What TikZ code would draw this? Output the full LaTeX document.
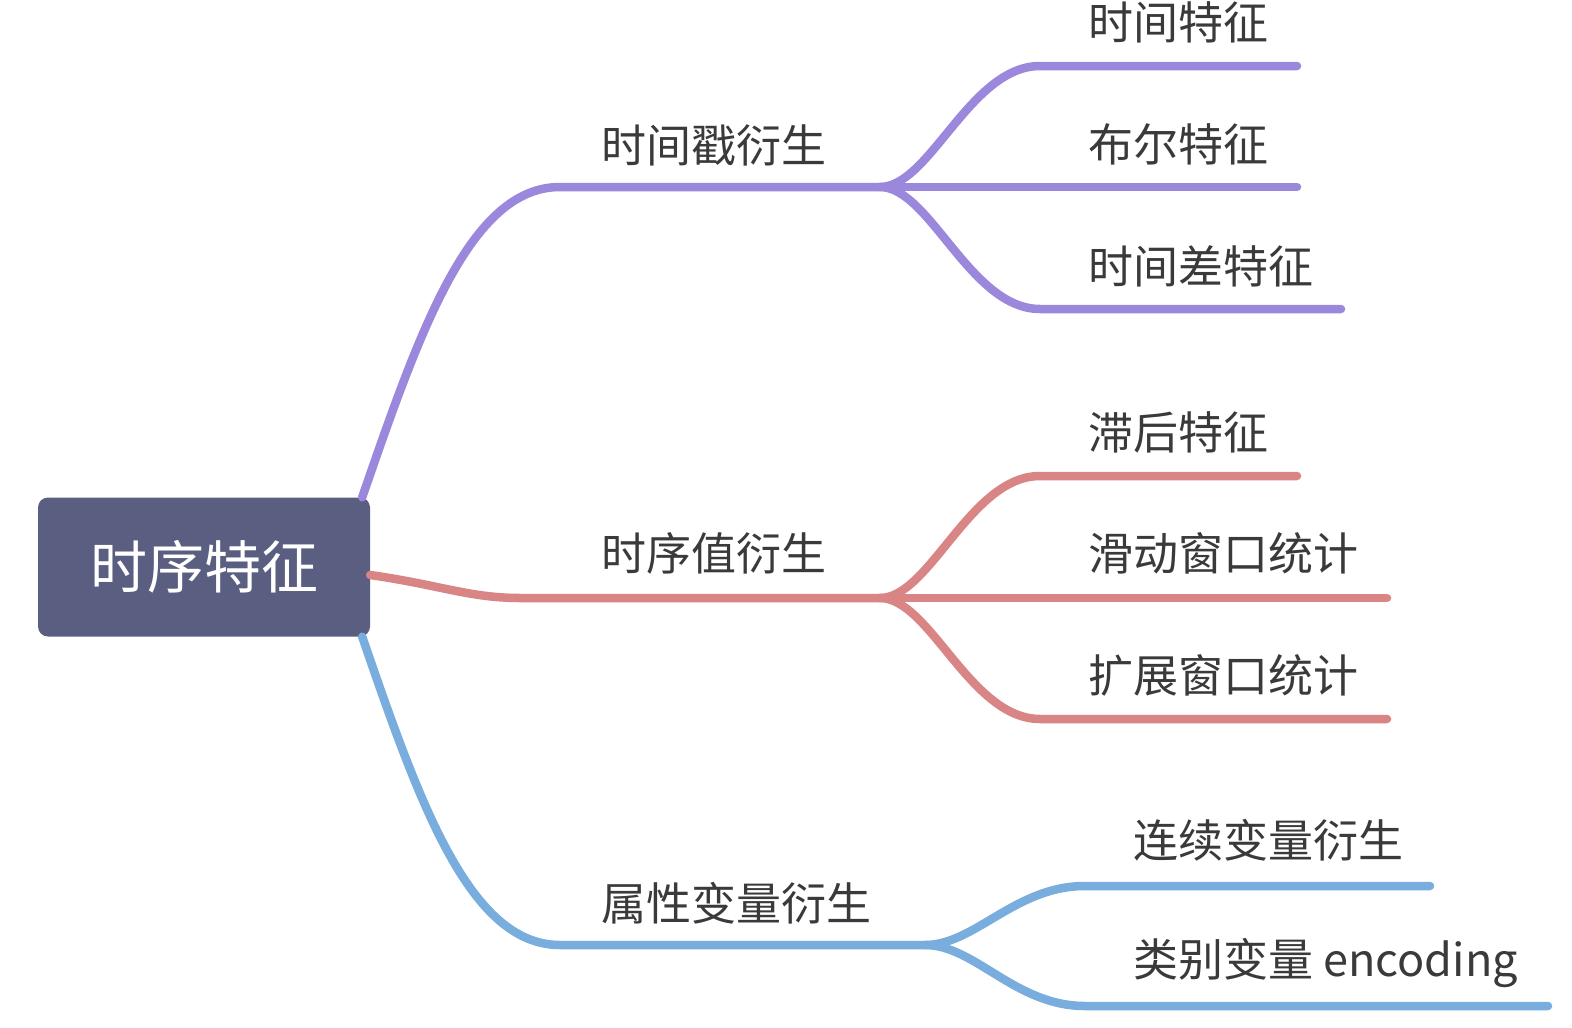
\documentclass[tikz,border=0pt]{standalone}
\usepackage{fontspec}
\setmainfont{Noto Sans CJK SC}
\usepackage{tikz}
\usetikzlibrary{positioning, calc}
\definecolor{mmtema}{HTML}{5A5F82}
\definecolor{mmzi}{HTML}{9B88DC}
\definecolor{mmhong}{HTML}{D98585}
\definecolor{mmlan}{HTML}{78ADDD}
\definecolor{mmtexto}{HTML}{3A3A3A}
\tikzset{
  tema/.style={fill=mmtema, rounded corners=10pt, minimum width=332pt, minimum height=139pt, inner sep=0pt, text=white, font=\fontsize{57}{60}\selectfont},
  rama/.style={inner sep=0pt, text=mmtexto, font=\fontsize{45}{48}\selectfont},
  hoja/.style={rama, anchor=west},
  linea/.style={line width=8.5pt, line cap=round},
}
\begin{document}
\begin{tikzpicture}[x=1pt, y=-1pt]
  \fill[white] (0,0) rectangle (1572,1028);
  \useasboundingbox (0,0) rectangle (1572,1028);
  \node[tema] (t) at (204,567) {时序特征};
  % ramas de primer nivel
  \coordinate (a0) at ([xshift=-8pt]t.north east);
  \coordinate (a1) at (560,187);
  \coordinate (a2) at (880,187);
  \coordinate (c0) at ([yshift=-8pt]t.east);
  \coordinate (c1) at (520,598);
  \coordinate (c2) at (880,598);
  \coordinate (b0) at ([xshift=-8pt]t.south east);
  \coordinate (b1) at (560,945);
  \coordinate (b2) at (925,945);
  \draw[linea, mmzi] (a0) .. controls (420,330) and (470,187) .. (a1) -- (a2);
  \draw[linea, mmhong] (c0) .. controls (440,585) and (470,598) .. (c1) -- (c2);
  \draw[linea, mmlan] (b0) .. controls (420,805) and (470,945) .. (b1) -- (b2);
  \node[rama] (na) at (714,145) {时间戳衍生};
  \node[rama] (nc) at (714,553) {时序值衍生};
  \node[rama] (nb) at (736,903) {属性变量衍生};
  % hojas
  \coordinate (a11) at (1040,66);   \coordinate (a11e) at (1297,66);
  \coordinate (a12e) at (1297,187);
  \coordinate (a13) at (1040,309);  \coordinate (a13e) at (1341,309);
  \draw[linea, mmzi] (a2) .. controls (930,187) and (970,66) .. (a11) -- (a11e);
  \draw[linea, mmzi] (a2) -- (a12e);
  \draw[linea, mmzi] (a2) .. controls (930,187) and (970,309) .. (a13) -- (a13e);
  \node[hoja] (ha1) at (1088,22) {时间特征};
  \node[hoja] (ha2) at (1088,144) {布尔特征};
  \node[hoja] (ha3) at (1088,266) {时间差特征};
  \coordinate (c11) at (1040,476);  \coordinate (c11e) at (1297,476);
  \coordinate (c12e) at (1387,598);
  \coordinate (c13) at (1040,719);  \coordinate (c13e) at (1387,719);
  \draw[linea, mmhong] (c2) .. controls (930,598) and (970,476) .. (c11) -- (c11e);
  \draw[linea, mmhong] (c2) -- (c12e);
  \draw[linea, mmhong] (c2) .. controls (930,598) and (970,719) .. (c13) -- (c13e);
  \node[hoja] (hc1) at (1088,432) {滞后特征};
  \node[hoja] (hc2) at (1088,553) {滑动窗口统计};
  \node[hoja] (hc3) at (1088,675) {扩展窗口统计};
  \coordinate (b11) at (1085,886);  \coordinate (b11e) at (1430,886);
  \coordinate (b12) at (1085,1006); \coordinate (b12e) at (1548,1006);
  \draw[linea, mmlan] (b2) .. controls (975,945) and (1015,886) .. (b11) -- (b11e);
  \draw[linea, mmlan] (b2) .. controls (975,945) and (1015,1006) .. (b12) -- (b12e);
  \node[hoja] (hb1) at (1133,840) {连续变量衍生};
  \node[hoja] (hb2) at (1133,963) {类别变量 encoding};
\end{tikzpicture}
\end{document}
